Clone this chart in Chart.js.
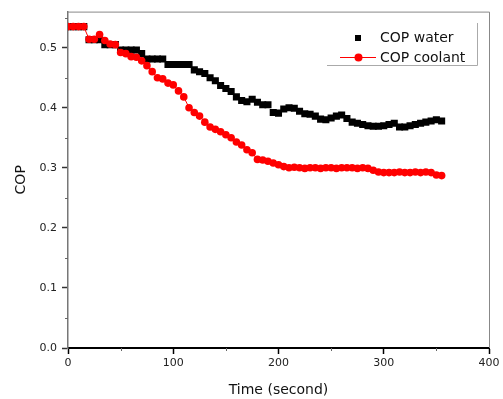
<!DOCTYPE html>
<html>
<head>
<meta charset="utf-8">
<script src="https://cdn.jsdelivr.net/npm/chart.js@4"></script>
<style>
    html, body { margin: 0; padding: 0; background: #fff; }
    #copChart { display: block; }
</style>
</head>
<body>
<canvas id="copChart" width="503" height="399"></canvas>
<script>
const timeSec = [0, 5, 10, 15, 20, 25, 30, 35, 40, 45, 50, 55, 60, 65, 70, 75, 80, 85, 90, 95,
    100, 105, 110, 115, 120, 125, 130, 135, 140, 145, 150, 155, 160, 165, 170, 175, 180, 185, 190, 195,
    200, 205, 210, 215, 220, 225, 230, 235, 240, 245, 250, 255, 260, 265, 270, 275, 280, 285, 290, 295,
    300, 305, 310, 315, 320, 325, 330, 335, 340, 345, 350, 355];

const copWater = [0.535, 0.535, 0.535, 0.535, 0.513, 0.513, 0.513, 0.505, 0.505, 0.505,
    0.496, 0.496, 0.496, 0.496, 0.490, 0.481, 0.481, 0.481, 0.481, 0.472,
    0.472, 0.472, 0.472, 0.472, 0.463, 0.460, 0.457, 0.450, 0.445, 0.437,
    0.432, 0.427, 0.418, 0.412, 0.410, 0.414, 0.409, 0.405, 0.405, 0.392,
    0.391, 0.398, 0.400, 0.399, 0.394, 0.390, 0.389, 0.386, 0.381, 0.380,
    0.383, 0.386, 0.388, 0.382, 0.376, 0.374, 0.372, 0.370, 0.369, 0.369,
    0.370, 0.372, 0.374, 0.368, 0.368, 0.370, 0.372, 0.374, 0.376, 0.378,
    0.380, 0.378];

const copCoolant = [0.535, 0.535, 0.535, 0.535, 0.514, 0.514, 0.522, 0.512, 0.506, 0.505,
    0.492, 0.490, 0.485, 0.484, 0.478, 0.470, 0.460, 0.450, 0.448, 0.441,
    0.438, 0.428, 0.418, 0.400, 0.392, 0.386, 0.376, 0.368, 0.364, 0.360,
    0.355, 0.350, 0.343, 0.338, 0.330, 0.325, 0.314, 0.313, 0.311, 0.308,
    0.305, 0.302, 0.300, 0.301, 0.300, 0.299, 0.300, 0.300, 0.299, 0.300,
    0.300, 0.299, 0.300, 0.300, 0.300, 0.299, 0.300, 0.299, 0.296, 0.293,
    0.292, 0.292, 0.292, 0.293, 0.292, 0.292, 0.293, 0.292, 0.293, 0.292,
    0.288, 0.287];

const seriesNames = ["COP water", "COP coolant"];
const xAxisTitle = "Time (second)";
const yAxisTitle = "COP";

Chart.defaults.font.family = "'DejaVu Sans', sans-serif";
Chart.defaults.color = "#222";

// frame, minor ticks and the legend box, drawn the way the original plot looks
const framePlugin = {
    id: "frame",
    afterDraw(chart) {
        const ctx = chart.ctx;
        const area = chart.chartArea;
        const xs = chart.scales.x, ys = chart.scales.y;
        ctx.save();
        ctx.strokeStyle = "#888";
        ctx.lineWidth = 1;
        ctx.beginPath();
        ctx.moveTo(area.left, area.top + 0.5);
        ctx.lineTo(area.right + 0.5, area.top + 0.5);
        ctx.lineTo(area.right + 0.5, area.bottom);
        ctx.stroke();

        // minor ticks
        ctx.strokeStyle = "#666";
        ctx.beginPath();
        for (let v = 50; v < 400; v += 100) {
            let px = Math.round(xs.getPixelForValue(v)) + 0.5;
            ctx.moveTo(px, area.bottom);
            ctx.lineTo(px, area.bottom + 3);
        }
        for (let v = 0.05; v < 0.56; v += 0.1) {
            let py = Math.round(ys.getPixelForValue(v)) + 0.5;
            ctx.moveTo(area.left, py);
            ctx.lineTo(area.left - 3, py);
        }
        ctx.stroke();

        // legend
        ctx.strokeStyle = "#aaa";
        ctx.beginPath();
        ctx.moveTo(327, 65.5);
        ctx.lineTo(477.5, 65.5);
        ctx.lineTo(477.5, 23);
        ctx.stroke();

        ctx.fillStyle = "#000";
        ctx.fillRect(355, 35, 6, 6);

        ctx.strokeStyle = "#ff0000";
        ctx.beginPath();
        ctx.moveTo(340, 57.5);
        ctx.lineTo(376, 57.5);
        ctx.stroke();
        ctx.fillStyle = "#ff0000";
        ctx.beginPath();
        ctx.arc(358.5, 57.5, 4, 0, Math.PI * 2);
        ctx.fill();

        ctx.fillStyle = "#111";
        ctx.font = "14px 'DejaVu Sans'";
        ctx.textBaseline = "middle";
        ctx.fillText(seriesNames[0], 380, 38);
        ctx.fillText(seriesNames[1], 380, 58);
        ctx.restore();
    }
};

let ctx = document.getElementById("copChart").getContext("2d");

let copChart = new Chart(ctx, {
    type: "scatter",
    data: {
        datasets: [
            {
                label: seriesNames[0],
                data: timeSec.map((t, i) => ({ x: t, y: copWater[i] })),
                showLine: false,
                pointStyle: "rect",
                pointRadius: 5,
                pointBorderWidth: 0,
                pointBackgroundColor: "#000",
                borderColor: "#000",
                order: 1
            },
            {
                label: seriesNames[1],
                data: timeSec.map((t, i) => ({ x: t, y: copCoolant[i] })),
                showLine: true,
                borderColor: "#ff0000",
                borderWidth: 1,
                pointStyle: "circle",
                pointRadius: 3.8,
                pointBorderWidth: 0,
                pointBackgroundColor: "#ff0000",
                order: 0
            }
        ]
    },
    options: {
        responsive: false,
        animation: false,
        devicePixelRatio: 1,
        layout: { padding: { left: 0, right: 14, top: 9, bottom: 0 } },
        plugins: {
            legend: { display: false },
            tooltip: { enabled: false }
        },
        scales: {
            x: {
                type: "linear",
                min: 0,
                max: 400,
                afterFit: scale => { scale.height = 51; },
                ticks: {
                    stepSize: 100,
                    padding: 3,
                    maxRotation: 0,
                    font: { size: 11 },
                    color: "#222"
                },
                grid: {
                    drawOnChartArea: false,
                    tickLength: 6,
                    tickColor: "#000",
                    tickWidth: 1.5
                },
                border: { color: "#000", width: 2 },
                title: {
                    display: true,
                    text: xAxisTitle,
                    font: { size: 14 },
                    color: "#111",
                    padding: { top: 0, bottom: 0 }
                }
            },
            y: {
                min: 0,
                max: 0.56,
                afterFit: scale => { scale.width = 68; },
                afterBuildTicks: scale => {
                    scale.ticks = scale.ticks.filter(t => t.value <= 0.5001);
                },
                ticks: {
                    stepSize: 0.1,
                    padding: 5,
                    font: { size: 11 },
                    color: "#222",
                    callback: v => v.toFixed(1)
                },
                grid: {
                    drawOnChartArea: false,
                    tickLength: 6,
                    tickColor: "#333",
                    tickWidth: 1.5
                },
                border: { color: "#777", width: 1.5 },
                title: {
                    display: true,
                    text: yAxisTitle,
                    font: { size: 14 },
                    color: "#111",
                    padding: { top: 13, bottom: 0 }
                }
            }
        }
    },
    plugins: [framePlugin]
});
</script>
</body>
</html>
